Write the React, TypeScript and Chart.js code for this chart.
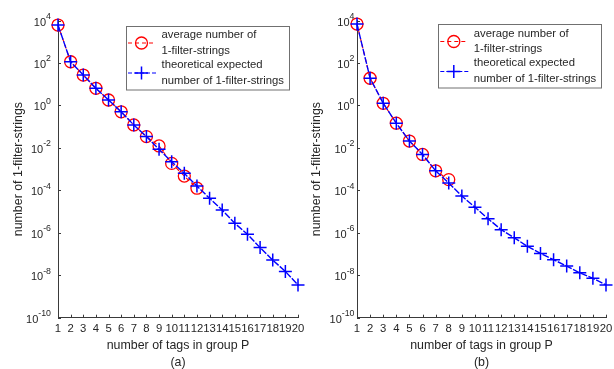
import React, { useEffect, useRef } from "react";
import { Chart, registerables } from "chart.js";

Chart.register(...registerables);

const FONT = "'Liberation Sans', Arial, Helvetica, sans-serif";
const INK = "#262626";

const tagCounts = [1, 2, 3, 4, 5, 6, 7, 8, 9, 10, 11, 12, 13, 14, 15, 16, 17, 18, 19, 20];
const yTickValues = [1e-10, 1e-8, 1e-6, 1e-4, 1e-2, 1, 1e2, 1e4];
const yTickExponents = ["-10", "-8", "-6", "-4", "-2", "0", "2", "4"];

// panel (a)
const avgA = [6100, 114, 27, 6.4, 1.8, 0.5, 0.12, 0.034, 0.0123, 0.00186, 4.7e-4, 1.26e-4];
const theoA = [6100, 114, 27, 6.4, 1.8, 0.5, 0.12, 0.034, 0.0085, 0.0022, 6.3e-4, 1.6e-4, 4.2e-5, 1.17e-5, 2.8e-6, 8.5e-7, 2.0e-7, 5.2e-8, 1.5e-8, 3.5e-9];
// panel (b)
const avgB = [6800, 19, 1.26, 0.145, 0.021, 0.0049, 8.3e-4, 3.2e-4];
const theoB = [6800, 19, 1.26, 0.145, 0.021, 0.0049, 8.3e-4, 2.2e-4, 5.4e-5, 1.6e-5, 4.6e-6, 1.4e-6, 5.8e-7, 2.3e-7, 1.07e-7, 5.4e-8, 2.7e-8, 1.3e-8, 7.2e-9, 3.5e-9];

const legendLines1 = ["average number of", "1-filter-strings"];
const legendLines2 = ["theoretical expected", "number of 1-filter-strings"];
const xTitle = "number of tags in group P";
const yTitle = "number of 1-filter-strings";

type PanelProps = {
  avg: number[];
  theo: number[];
  caption: string;
  pad: { left: number; right: number; top: number; bottom: number };
  legendX: number;
  legendY: number;
  yLabelGap: number;
  yTitleX: number;
};

function Panel({ avg, theo, caption, pad, legendX, legendY, yLabelGap, yTitleX }: PanelProps) {
  const ref = useRef<HTMLCanvasElement | null>(null);

  useEffect(() => {
    const canvas = ref.current;
    if (!canvas) return;

    const decor = {
      id: "decor",
      afterDraw(chart: any) {
        const ctx = chart.ctx as CanvasRenderingContext2D;
        const xs = chart.scales.x;
        const ys = chart.scales.y;
        const area = chart.chartArea;
        ctx.save();
        ctx.fillStyle = INK;
        ctx.strokeStyle = "#3a3a3a";
        ctx.lineWidth = 1;

        // inward tick marks
        ctx.beginPath();
        xs.ticks.forEach((t: any) => {
          const px = Math.round(xs.getPixelForValue(t.value)) + 0.5;
          ctx.moveTo(px, area.bottom);
          ctx.lineTo(px, area.bottom - 3);
        });
        ys.ticks.forEach((t: any) => {
          const py = Math.round(ys.getPixelForValue(t.value)) + 0.5;
          ctx.moveTo(area.left, py);
          ctx.lineTo(area.left + 3, py);
        });
        ctx.stroke();

        // x tick labels
        ctx.font = `11.3px ${FONT}`;
        ctx.textAlign = "center";
        ctx.textBaseline = "middle";
        xs.ticks.forEach((t: any) => {
          ctx.fillText(String(t.value), xs.getPixelForValue(t.value), area.bottom + 10.8);
        });

        // y tick labels 10^n
        yTickValues.forEach((v, i) => {
          const py = ys.getPixelForValue(v);
          const exp = yTickExponents[i];
          ctx.font = `11px ${FONT}`;
          const bw = ctx.measureText("10").width;
          ctx.font = `8.8px ${FONT}`;
          const ew = ctx.measureText(exp).width;
          const x0 = area.left - yLabelGap - bw - ew;
          ctx.textAlign = "left";
          ctx.font = `11px ${FONT}`;
          ctx.fillText("10", x0, py + 2);
          ctx.font = `8.8px ${FONT}`;
          ctx.fillText(exp, x0 + bw, py - 4);
        });

        // axis titles
        ctx.font = `12.4px ${FONT}`;
        ctx.textAlign = "center";
        const cx = (area.left + area.right) / 2;
        ctx.fillText(xTitle, cx, area.bottom + 28);
        ctx.fillText(caption, cx, area.bottom + 45);
        ctx.save();
        ctx.translate(yTitleX, (area.top + area.bottom) / 2);
        ctx.rotate(-Math.PI / 2);
        ctx.fillText(yTitle, 0, 0);
        ctx.restore();

        // legend
        const bw = 163;
        const bh = 63.5;
        ctx.fillStyle = "#ffffff";
        ctx.fillRect(legendX, legendY, bw, bh);
        ctx.strokeStyle = "#707070";
        ctx.strokeRect(Math.round(legendX) + 0.5, Math.round(legendY) + 0.5, bw, bh);
        ctx.fillStyle = INK;
        ctx.font = `11.3px ${FONT}`;
        ctx.textAlign = "left";
        const tx = legendX + 35.5;
        ctx.fillText(legendLines1[0], tx, legendY + 9.5);
        ctx.fillText(legendLines1[1], tx, legendY + 25.3);
        ctx.fillText(legendLines2[0], tx, legendY + 39);
        ctx.fillText(legendLines2[1], tx, legendY + 55.3);

        const sx0 = legendX + 2;
        const sx1 = legendX + 30;
        const scx = legendX + 15.5;
        // red sample
        let sy = legendY + 17.5;
        ctx.strokeStyle = "#ff0000";
        ctx.lineWidth = 1.2;
        ctx.setLineDash([4, 3]);
        ctx.beginPath();
        ctx.moveTo(sx0, sy);
        ctx.lineTo(sx1, sy);
        ctx.stroke();
        ctx.setLineDash([]);
        ctx.lineWidth = 1.3;
        ctx.beginPath();
        ctx.arc(scx, sy, 6, 0, Math.PI * 2);
        ctx.stroke();
        // blue sample
        sy = legendY + 47.5;
        ctx.strokeStyle = "#0000ff";
        ctx.lineWidth = 1.2;
        ctx.setLineDash([4, 2]);
        ctx.beginPath();
        ctx.moveTo(sx0, sy);
        ctx.lineTo(sx1, sy);
        ctx.stroke();
        ctx.setLineDash([]);
        ctx.lineWidth = 1.5;
        ctx.beginPath();
        ctx.moveTo(scx - 6.5, sy);
        ctx.lineTo(scx + 6.5, sy);
        ctx.moveTo(scx, sy - 6.5);
        ctx.lineTo(scx, sy + 6.5);
        ctx.stroke();
        ctx.restore();
      },
    };

    const chart = new Chart(canvas, {
      type: "line",
      data: {
        datasets: [
          {
            label: legendLines2.join(" "),
            data: theo.map((v, i) => ({ x: tagCounts[i], y: v })),
            borderColor: "#0000ff",
            borderWidth: 1.4,
            borderDash: [7, 1.5],
            pointStyle: "cross",
            pointRadius: 6.5,
            pointBorderWidth: 1.5,
            pointBorderColor: "#0000ff",
            pointBackgroundColor: "#0000ff",
            fill: false,
            tension: 0,
            clip: false,
          },
          {
            label: legendLines1.join(" "),
            data: avg.map((v, i) => ({ x: tagCounts[i], y: v })),
            borderColor: "#ff0000",
            borderWidth: 1.1,
            borderDash: [4, 3],
            pointStyle: "circle",
            pointRadius: 6,
            pointBorderWidth: 1.3,
            pointBorderColor: "#ff0000",
            pointBackgroundColor: "rgba(0,0,0,0)",
            fill: false,
            tension: 0,
            clip: false,
          },
        ],
      } as any,
      options: {
        animation: false,
        responsive: false,
        devicePixelRatio: 1,
        layout: { padding: pad },
        plugins: { legend: { display: false }, tooltip: { enabled: false } },
        scales: {
          x: {
            type: "linear",
            min: 1,
            max: 20,
            ticks: { display: false, stepSize: 1 },
            grid: { display: false, drawTicks: false },
            border: { display: true, color: "#3a3a3a", width: 1 },
            title: { display: false },
          },
          y: {
            type: "logarithmic",
            min: 1e-10,
            max: 1e4,
            ticks: { display: false },
            grid: { display: false, drawTicks: false },
            border: { display: true, color: "#3a3a3a", width: 1 },
            title: { display: false },
            afterBuildTicks: (s: any) => {
              s.ticks = yTickValues.map((v) => ({ value: v }));
            },
          },
        },
      } as any,
      plugins: [decor],
    });
    return () => chart.destroy();
  }, []);

  return <canvas ref={ref} width={307} height={369} style={{ display: "block", width: 307, height: 369 }} />;
}

export default function App() {
  return (
    <div style={{ position: "absolute", left: 0, top: 0, width: 614, height: 369, background: "#fff", display: "flex" }}>
      <Panel
        avg={avgA}
        theo={theoA}
        caption="(a)"
        pad={{ left: 58, right: 9, top: 20.5, bottom: 51.3 }}
        legendX={126}
        legendY={25.5}
        yLabelGap={7}
        yTitleX={19}
      />
      <Panel
        avg={avgB}
        theo={theoB}
        caption="(b)"
        pad={{ left: 50, right: 4, top: 20.5, bottom: 51.3 }}
        legendX={131.3}
        legendY={24}
        yLabelGap={2.5}
        yTitleX={9.5}
      />
    </div>
  );
}
